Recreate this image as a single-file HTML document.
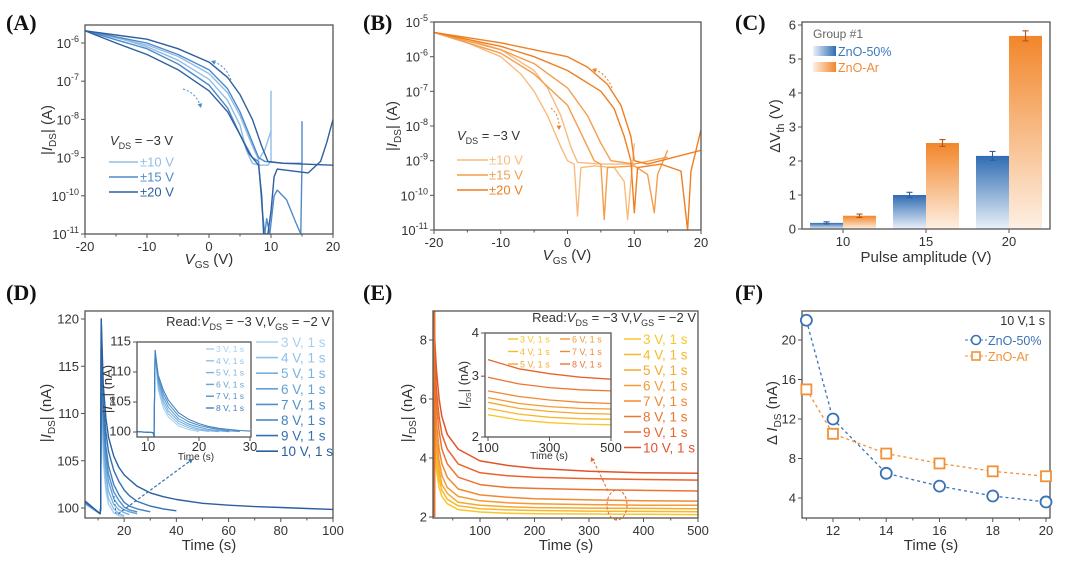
<!DOCTYPE html>
<html><head><meta charset="utf-8"><style>
html,body{margin:0;padding:0;background:#fff;}
svg{display:block;font-family:"Liberation Sans",sans-serif;}
.tk{font-size:13px;fill:#333;}
.pl{font-family:"Liberation Serif",serif;font-weight:bold;font-size:22px;fill:#111;}
.at{font-size:15px;fill:#333;}
</style></head><body>
<svg id="fig" width="1080" height="561" viewBox="0 0 1080 561">
<defs>
<linearGradient id="gBlue" x1="0" y1="0" x2="0" y2="1"><stop offset="0" stop-color="#2f6cb3"/><stop offset="1" stop-color="#eaf1f9"/></linearGradient>
<linearGradient id="gOr" x1="0" y1="0" x2="0" y2="1"><stop offset="0" stop-color="#f2862a"/><stop offset="1" stop-color="#fdf0e4"/></linearGradient>
<linearGradient id="gBlueH" x1="0" y1="0" x2="1" y2="0"><stop offset="0" stop-color="#eaf1f9"/><stop offset="1" stop-color="#2f6cb3"/></linearGradient>
<linearGradient id="gOrH" x1="0" y1="0" x2="1" y2="0"><stop offset="0" stop-color="#fdf0e4"/><stop offset="1" stop-color="#f2862a"/></linearGradient>
</defs>
</svg>
<script>
// ---------- DATA ----------
const aLabels=["±10 V","±15 V","±20 V"];
const aFwd10=[[-20,-5.68],[-15,-5.85],[-10,-6.1],[-5,-6.45],[0,-6.95],[3,-7.5],[5,-8.15],[6,-8.8],[7,-9.15],[8,-9.2],[9.5,-9.2],[10,-9.1],[10,-7.25]];
const aRev10=[[-20,-5.68],[-10,-6.05],[-5,-6.35],[0,-6.8],[3,-7.3],[5,-7.9],[7,-8.7],[8,-9.05],[9,-8.8],[10,-8.3]];
const aFwd15=[[-20,-5.68],[-10,-6.15],[-5,-6.55],[0,-7.1],[3,-7.7],[5,-8.4],[7,-9.0],[8,-9.1],[8.6,-10.4],[9,-11],[9.3,-10.6],[9.8,-11],[10.5,-10],[11,-9.85],[12.5,-10.1],[14,-10.7],[14.8,-11],[15,-9.1],[15,-8.05]];
const aRev15=[[-20,-5.68],[-10,-6.0],[-5,-6.3],[0,-6.7],[3,-7.2],[5,-7.8],[7,-8.6],[8,-9.0],[9,-9.1],[12,-9.15],[15,-9.15]];
const aFwd20=[[-20,-5.68],[-15,-6.0],[-10,-6.3],[-5,-6.7],[0,-7.25],[3,-7.8],[5,-8.4],[6.5,-8.9],[8,-9.2],[8.5,-10],[8.8,-11],[9.5,-11],[10,-10.4],[10.5,-9.5],[11,-9.3],[16,-9.4],[18,-9.1],[19,-8.6],[20,-8]];
const aRev20=[[-20,-5.68],[-10,-5.9],[-5,-6.15],[0,-6.5],[3,-6.9],[5,-7.35],[7,-8.0],[8.5,-8.7],[9.5,-9.1],[12,-9.15],[20,-9.2]];
const bFwd10=[[-20,-5.3],[-15,-5.6],[-10,-6.0],[-7,-6.5],[-5,-7.0],[-3,-7.7],[-1,-8.6],[0,-9.0],[1,-9.1],[1.5,-10.6],[2,-9.2],[4,-9.15],[7,-9.2],[8.5,-9.6],[9,-10.7],[9.5,-9.6],[10,-8.5]];
const bRev10=[[-20,-5.3],[-15,-5.5],[-10,-5.8],[-5,-6.4],[-3,-6.9],[-1,-7.7],[0.5,-8.6],[1.5,-9.05],[5,-9.1],[10,-9.1]];
const bFwd15=[[-20,-5.3],[-10,-5.9],[-5,-6.5],[0,-7.4],[2,-8.2],[4,-9.0],[5,-9.1],[5.5,-10.7],[6,-9.2],[10,-9.15],[12,-9.4],[13,-10.5],[13.5,-9.4],[15,-8.7]];
const bRev15=[[-20,-5.3],[-10,-5.8],[-5,-6.2],[0,-6.9],[3,-7.7],[5,-8.5],[6.5,-9.0],[10,-9.1],[15,-8.9]];
const bFwd20=[[-20,-5.3],[-10,-5.7],[-5,-6.0],[0,-6.4],[5,-7.0],[7,-7.5],[8.5,-8.3],[9.5,-9.0],[10,-10.5],[10.5,-9.2],[14,-9.1],[17,-9.3],[18,-11],[18.5,-9.3],[20,-8.1]];
const bRev20=[[-20,-5.3],[-10,-5.6],[0,-6.0],[3,-6.3],[6,-6.8],[8,-7.4],[9.5,-8.3],[10,-9.0],[12,-9.1],[16,-8.9],[20,-8.7]];
const cCats=[10,15,20];
const cBlue=[0.18,1.0,2.15];
const cBlueErr=[0.03,0.08,0.13];
const cOrange=[0.39,2.53,5.68];
const cOrangeErr=[0.05,0.1,0.15];
const dLabels=["3 V, 1 s","4 V, 1 s","5 V, 1 s","6 V, 1 s","7 V, 1 s","8 V, 1 s","9 V, 1 s","10 V, 1 s"];
const dTime=[11,11.2,12,13,14,16,18,20,22,25,30,35,40,50,60,70,80,90,100];
const dV3=[100,117,105,101.8,100.4,99.5,99.2,99.1];
const dV4=[100,117,106,102.5,101,99.9,99.4,99.2];
const dV5=[100,118,107,103.5,101.8,100.4,99.8,99.5,99.3];
const dV6=[100,118,108,104.5,102.8,101,100.2,99.8,99.6,99.4];
const dV7=[100,119,109,105.5,103.6,101.7,100.8,100.1,99.8,99.6];
const dV8=[100,119,110,106.5,104.5,102.5,101.4,100.6,100.2,99.9,99.6];
const dV9=[100,120,111,108,106,104,102.8,101.9,101.3,100.7,100.2,99.9,99.7];
const dV10=[100,120,113,109.5,107.5,105.5,104.3,103.5,103,102.3,101.6,101.2,100.9,100.5,100.3,100.15,100.05,99.95,99.85];
const diTime=[11.2,11.4,12,13,14,16,18,20,22,24,26,28,30];
const diV3=[100,113,107,104,102.5,101,100.4,100.1];
const diV4=[100,113,107.5,104.6,103,101.4,100.7,100.3,100.1];
const diV5=[100,113.3,108,105.2,103.5,101.8,101,100.5,100.2,100.05];
const diV6=[100,113.5,108.5,105.8,104.1,102.2,101.3,100.8,100.4,100.2,100.05];
const diV7=[100,113.6,109,106.4,104.7,102.7,101.7,101.1,100.7,100.4,100.2,100.1];
const diV8=[100,113.6,109.5,107,105.3,103.2,102.1,101.4,100.9,100.6,100.4,100.25,100.15];
const eTime=[15,17,20,25,30,40,60,100,150,200,300,400,500];
const eV3=[6.5,4.6,3.6,3.0,2.7,2.45,2.25,2.17,2.13,2.11,2.1,2.09,2.08];
const eV4=[7,5,3.9,3.3,2.9,2.6,2.38,2.28,2.24,2.22,2.2,2.19,2.18];
const eV5=[7.5,5.5,4.3,3.6,3.1,2.8,2.5,2.4,2.35,2.32,2.3,2.29,2.28];
const eV6=[8,6,4.7,3.9,3.4,3.0,2.7,2.55,2.48,2.45,2.42,2.4,2.4];
const eV7=[8.5,6.5,5.2,4.3,3.8,3.35,2.95,2.75,2.67,2.62,2.58,2.55,2.54];
const eV8=[9,7,5.8,4.9,4.3,3.8,3.35,3.1,3.0,2.97,2.93,2.9,2.88];
const eV9=[9,7.5,6.3,5.4,4.8,4.3,3.8,3.5,3.4,3.35,3.3,3.27,3.25];
const eV10=[9,8,7,6,5.4,4.8,4.3,3.9,3.75,3.65,3.55,3.5,3.48];
const eiTime=[100,200,300,400,500];
const eiV3=[2.32,2.24,2.2,2.18,2.17];
const eiV4=[2.42,2.33,2.28,2.26,2.25];
const eiV5=[2.52,2.42,2.37,2.34,2.33];
const eiV6=[2.6,2.5,2.45,2.42,2.41];
const eiV7=[2.72,2.62,2.56,2.52,2.5];
const eiV8=[2.98,2.85,2.78,2.74,2.72];
const eiV8top=[3.35,3.15,3.05,2.98,2.94];
const fTime=[11,12,14,16,18,20];
const fZnO50=[22,12,6.5,5.2,4.2,3.6];
const fZnOAr=[15,10.5,8.5,7.5,6.7,6.2];

// ---------- HELPERS ----------
const NS="http://www.w3.org/2000/svg";
const svg=document.getElementById('fig');
function el(tag,attrs,parent,text){const e=document.createElementNS(NS,tag);for(const k in attrs)e.setAttribute(k,attrs[k]);if(text!==undefined)e.textContent=text;(parent||svg).appendChild(e);return e;}
function lin(d0,d1,r0,r1){return v=>r0+(v-d0)*(r1-r0)/(d1-d0);}
function logS(d0,d1,r0,r1){const f=lin(Math.log10(d0),Math.log10(d1),r0,r1);return v=>f(Math.log10(v));}
function clip(id,x0,y0,x1,y1){const cp=el('clipPath',{id:id},svg.querySelector('defs'));el('rect',{x:x0,y:y0,width:x1-x0,height:y1-y0},cp);}
function frame(x0,y0,x1,y1,name){const r=el('rect',{x:x0,y:y0,width:x1-x0,height:y1-y0,fill:'none',stroke:'#555','stroke-width':1.3});

}
function poly(pts,sx,sy,color,w,cid,name,dash){const d=pts.map((p,i)=>(i?'L':'M')+sx(p[0]).toFixed(1)+','+sy(p[1]).toFixed(1)).join('');
const p=el('path',{d:d,fill:'none',stroke:color,'stroke-width':w||1.4,'clip-path':cid?'url(#'+cid+')':'','stroke-linejoin':'round'});
if(dash)p.setAttribute('stroke-dasharray',dash);

return p;}
function zip(t,v){return v.map((y,i)=>[t[i],y]);}
function xTicks(vals,sx,y,fs,minor){fs=fs||13;vals.forEach(v=>{const x=sx(v);el('line',{x1:x,y1:y,x2:x,y2:y+4,stroke:'#555'});
const t=el('text',{x:x,y:y+4+fs,'text-anchor':'middle',class:'tk','font-size':fs},svg,String(v));

});
(minor||[]).forEach(v=>{const x=sx(v);el('line',{x1:x,y1:y,x2:x,y2:y+2.5,stroke:'#555'});});}
function yTicks(vals,sy,x,fs,minor,labels){fs=fs||13;vals.forEach((v,i)=>{const y=sy(v);el('line',{x1:x,y1:y,x2:x-4,y2:y,stroke:'#555'});
const t=el('text',{x:x-6,y:y+fs*0.36,'text-anchor':'end',class:'tk','font-size':fs},svg,labels?labels[i]:String(v));

});
(minor||[]).forEach(v=>{const y=sy(v);el('line',{x1:x,y1:y,x2:x-2.5,y2:y,stroke:'#555'});});}
function expTicks(exps,sy,x){exps.forEach(e=>{const y=sy(e);el('line',{x1:x,y1:y,x2:x-4,y2:y,stroke:'#555'});
const t=el('text',{x:x-6,y:y+5,'text-anchor':'end',class:'tk'},svg);


el('tspan',{},t,'10');el('tspan',{dy:-6,'font-size':9},t,String(e));});}
function plabel(x,y,s,name){const t=el('text',{x:x,y:y,class:'pl'},svg,s);

}
function rich(x,y,parts,attrs,name){const t=el('text',Object.assign({x:x,y:y},attrs),svg);


parts.forEach(p=>{if(typeof p==='string')el('tspan',{},t,p);else{el('tspan',p.a||{},t,p.t);}});return t;}
function ytitle(x,y,parts,name,cls){return rich(0,0,parts,{class:cls||'at','text-anchor':'middle',transform:'translate('+x+','+y+') rotate(-90)'},name);}
function arrowHead(x,y,ang,color){const a=ang*Math.PI/180,s=5;const p1=[x-s*Math.cos(a-0.5),y-s*Math.sin(a-0.5)],p2=[x-s*Math.cos(a+0.5),y-s*Math.sin(a+0.5)];
const h=el('path',{d:'M'+x+','+y+'L'+p1+'L'+p2+'Z',fill:color});

}

// ---------- PANEL A ----------
plabel(6,30,'(A)','panel-a-label');
{const sx=lin(-20,20,85,333),sy=lin(-11,-6,234,43);
clip('cA',85,25,333,234);
const cols=['#93bde4','#4f8bc9','#2f5f9f'];
[[aFwd10,aRev10],[aFwd15,aRev15],[aFwd20,aRev20]].forEach((pr,i)=>{poly(pr[0],sx,sy,cols[i],1.4,'cA','transfer-curve-fwd-'+(i+1));poly(pr[1],sx,sy,cols[i],1.4,'cA','transfer-curve-rev-'+(i+1));});
frame(85,25,333,234,'panel-a-plot-area');
xTicks([-20,-10,0,10,20],sx,234,13,[-15,-5,5,15]);
expTicks([-6,-7,-8,-9,-10,-11],sy,85);
rich(209,264,[{t:'V',a:{'font-style':'italic'}},{t:'GS',a:{dy:4,'font-size':10}},{t:' (V)',a:{dy:-4}}],{class:'at','text-anchor':'middle'},'x-axis-title-a');
ytitle(52,130,['|',{t:'I',a:{'font-style':'italic'}},{t:'DS',a:{dy:4,'font-size':10}},{t:'| (A)',a:{dy:-4}}],'y-axis-title-a');
rich(110,145,[{t:'V',a:{'font-style':'italic'}},{t:'DS',a:{dy:4,'font-size':9}},{t:' = −3 V',a:{dy:-4}}],{'font-size':13,fill:'#333'},'vds-note-a');
aLabels.forEach((s,i)=>{const y=162+i*15;el('line',{x1:109,y1:y,x2:138,y2:y,stroke:cols[i],'stroke-width':1.6});
const t=el('text',{x:140,y:y+4.5,'font-size':13,fill:cols[i]},svg,s);

});
el('path',{d:'M231,80 Q226,66 214,62',fill:'none',stroke:'#4f8bc9','stroke-dasharray':'2,2'});arrowHead(211,61,200,'#4f8bc9');
el('path',{d:'M183,89 Q196,93 200,105',fill:'none',stroke:'#4f8bc9','stroke-dasharray':'2,2'});arrowHead(201,108,75,'#4f8bc9');
}
// ---------- PANEL B ----------
plabel(363,30,'(B)','panel-b-label');
{const sx=lin(-20,20,434,701),sy=lin(-11,-5,230,22);
clip('cB',434,22,701,230);
const cols=['#f8bb80','#f49d4c','#ee7f22'];
[[bFwd10,bRev10],[bFwd15,bRev15],[bFwd20,bRev20]].forEach((pr,i)=>{poly(pr[0],sx,sy,cols[i],1.4,'cB','transfer-curve-b-fwd-'+(i+1));poly(pr[1],sx,sy,cols[i],1.4,'cB','transfer-curve-b-rev-'+(i+1));});
frame(434,22,701,230,'panel-b-plot-area');
xTicks([-20,-10,0,10,20],sx,230,13,[-15,-5,5,15]);
expTicks([-5,-6,-7,-8,-9,-10,-11],sy,434);
rich(567,260,[{t:'V',a:{'font-style':'italic'}},{t:'GS',a:{dy:4,'font-size':10}},{t:' (V)',a:{dy:-4}}],{class:'at','text-anchor':'middle'},'x-axis-title-b');
ytitle(397,126,['|',{t:'I',a:{'font-style':'italic'}},{t:'DS',a:{dy:4,'font-size':10}},{t:'| (A)',a:{dy:-4}}],'y-axis-title-b');
rich(457,140,[{t:'V',a:{'font-style':'italic'}},{t:'DS',a:{dy:4,'font-size':9}},{t:' = −3 V',a:{dy:-4}}],{'font-size':13,fill:'#333'},'vds-note-b');
aLabels.forEach((s,i)=>{const y=160+i*15;el('line',{x1:457,y1:y,x2:488,y2:y,stroke:cols[i],'stroke-width':1.6});
const t=el('text',{x:489,y:y+4.5,'font-size':13,fill:cols[i]},svg,s);

});
el('path',{d:'M612,88 Q607,75 596,70',fill:'none',stroke:'#ee7f22','stroke-dasharray':'2,2'});arrowHead(592,69,200,'#ee7f22');
el('path',{d:'M551,108 Q559,115 559,126',fill:'none',stroke:'#ee7f22','stroke-dasharray':'2,2'});arrowHead(559,130,90,'#ee7f22');
}
// ---------- PANEL C ----------
plabel(735,30,'(C)','panel-c-label');
{const sx=lin(10,20,843,1009),sy=lin(0,6,229,25);const bw=33;
cCats.forEach((c,i)=>{const xc=sx(c);
const b1=el('rect',{x:xc-bw,y:sy(cBlue[i]),width:bw,height:sy(0)-sy(cBlue[i]),fill:'url(#gBlue)'});


const b2=el('rect',{x:xc,y:sy(cOrange[i]),width:bw,height:sy(0)-sy(cOrange[i]),fill:'url(#gOr)'});


[[xc-bw/2,cBlue[i],cBlueErr[i],'#2f5f9f'],[xc+bw/2,cOrange[i],cOrangeErr[i],'#b0561a']].forEach(e=>{
const g=el('path',{d:'M'+e[0]+','+sy(e[1]+e[2])+'V'+sy(e[1]-e[2])+'M'+(e[0]-3)+','+sy(e[1]+e[2])+'h6M'+(e[0]-3)+','+sy(e[1]-e[2])+'h6',stroke:e[3],'stroke-width':1.1,fill:'none'});

});});
frame(802,22,1050,229,'panel-c-plot-area');
xTicks(cCats,sx,229);
yTicks([0,1,2,3,4,5,6],sy,802);
const xt=el('text',{x:926,y:262,class:'at','text-anchor':'middle'},svg,'Pulse amplitude (V)');


ytitle(780,126,['Δ',{t:'V'},{t:'th',a:{dy:4,'font-size':11}},{t:' (V)',a:{dy:-4}}],'y-axis-title-c');
const gt=el('text',{x:813,y:38,'font-size':12,fill:'#666'},svg,'Group #1');


el('rect',{x:813,y:46,width:23,height:10,fill:'url(#gBlueH)'});
el('rect',{x:813,y:62,width:23,height:10,fill:'url(#gOrH)'});
const l1=el('text',{x:838,y:56,'font-size':12.5,fill:'#3a78bd'},svg,'ZnO-50%');


const l2=el('text',{x:838,y:72,'font-size':12.5,fill:'#f08a3a'},svg,'ZnO-Ar');


}
// ---------- PANEL D ----------
plabel(6,300,'(D)','panel-d-label');
const dCols=['#a6d0f0','#90c1e8','#7ab1df','#64a1d5','#5290ca','#4180be','#3470b0','#2b5fa0'];
const dSeries=[dV3,dV4,dV5,dV6,dV7,dV8,dV9,dV10];
const diSeries=[diV3,diV4,diV5,diV6,diV7,diV8];
{const sx=lin(5,100,85,333),sy=lin(100,120,508,319);
clip('cD',85,311,333,518);
dSeries.forEach((v,i)=>{const pts=[[5,100.4+i*0.05],[10.8,99.4]].concat(zip(dTime,v));poly(pts,sx,sy,dCols[i],1.4,'cD','decay-curve-d-'+(i+3)+'v');});
frame(85,311,333,518,'panel-d-plot-area');
xTicks([20,40,60,80,100],sx,518,13,[10,30,50,70,90]);
yTicks([100,105,110,115,120],sy,85);
const xt=el('text',{x:209,y:550,class:'at','text-anchor':'middle'},svg,'Time (s)');


ytitle(51,413,['|',{t:'I',a:{'font-style':'italic'}},{t:'DS',a:{dy:4,'font-size':10}},{t:'| (nA)',a:{dy:-4}}],'y-axis-title-d');
rich(330,326,['Read:',{t:'V',a:{'font-style':'italic'}},{t:'DS',a:{dy:4,'font-size':9}},{t:' = −3 V,',a:{dy:-4}},{t:'V',a:{'font-style':'italic'}},{t:'GS',a:{dy:4,'font-size':9}},{t:' = −2 V',a:{dy:-4}}],{'font-size':13,fill:'#333','text-anchor':'end'},'read-condition-d');
dLabels.forEach((s,i)=>{const y=342+i*15.6;el('line',{x1:256,y1:y,x2:278,y2:y,stroke:dCols[i],'stroke-width':1.6});
const t=el('text',{x:281,y:y+5,'font-size':13.5,fill:dCols[i]},svg,s);

});
el('path',{d:'M118,514 L190,461',fill:'none',stroke:'#3470b0','stroke-dasharray':'3,2','stroke-width':1.2});arrowHead(193,459,-36,'#3470b0');
el('path',{d:'M114,496 L116,514',fill:'none',stroke:'#3470b0','stroke-dasharray':'2,2'});
const ix=lin(10,30,148,250),iy=lin(100,115,432,342);
el('rect',{x:137,y:342,width:114,height:95,fill:'#fff'});
clip('cDi',137,342,251,437);
diSeries.forEach((v,i)=>{const pts=[[7,100.1],[11,99.9],[11.2,99.2]].concat(zip(diTime,v));poly(pts,ix,iy,dCols[i],1.1,'cDi','inset-decay-d-'+(i+3)+'v');});
frame(137,342,251,437,'panel-d-inset');
xTicks([10,20,30],ix,437,10);
yTicks([100,105,110,115],iy,137,10);
const it=el('text',{x:196,y:460,'font-size':10,fill:'#333','text-anchor':'middle'},svg,'Time (s)');


ytitle(112,389,['|',{t:'I',a:{'font-style':'italic'}},{t:'DS',a:{dy:3,'font-size':7}},{t:'| (nA)',a:{dy:-3}}],'inset-y-title-d','tk');
dLabels.slice(0,6).forEach((s,i)=>{const y=349+i*11.8;el('line',{x1:206,y1:y,x2:214,y2:y,stroke:dCols[i],'stroke-width':1.4});
const t=el('text',{x:216,y:y+3,'font-size':8.5,fill:dCols[i]},svg,s);

});
}
// ---------- PANEL E ----------
plabel(363,300,'(E)','panel-e-label');
const eCols=['#f9c62a','#f7b82c','#f5a930','#f39a33','#f08934','#ec7530','#e8642c','#e3532a'];
const eSeries=[eV3,eV4,eV5,eV6,eV7,eV8,eV9,eV10];
{const sx=lin(100,500,480,698),sy=lin(2,8,517,340);
clip('cE',433,311,698,518);
eSeries.forEach((v,i)=>{const pts=[[10,2.02],[14.6,2.02],[14.8,9]].concat(zip(eTime,v));poly(pts,sx,sy,eCols[i],1.5,'cE','decay-curve-e-'+(i+3)+'v');});
poly([[16,2],[16,9.5]],sx,sy,'#ee7020',2.5,'cE','pulse-line-e');
frame(433,311,698,518,'panel-e-plot-area');
xTicks([100,200,300,400,500],sx,518,13,[50,150,250,350,450]);
yTicks([2,4,6,8],sy,433);
const xt=el('text',{x:566,y:550,class:'at','text-anchor':'middle'},svg,'Time (s)');


ytitle(412,413,['|',{t:'I',a:{'font-style':'italic'}},{t:'DS',a:{dy:4,'font-size':10}},{t:'| (nA)',a:{dy:-4}}],'y-axis-title-e');
rich(696,322,['Read:',{t:'V',a:{'font-style':'italic'}},{t:'DS',a:{dy:4,'font-size':9}},{t:' = −3 V,',a:{dy:-4}},{t:'V',a:{'font-style':'italic'}},{t:'GS',a:{dy:4,'font-size':9}},{t:' = −2 V',a:{dy:-4}}],{'font-size':13,fill:'#333','text-anchor':'end'},'read-condition-e');
dLabels.forEach((s,i)=>{const y=339+i*15.5;el('line',{x1:624,y1:y,x2:641,y2:y,stroke:eCols[i],'stroke-width':1.6});
const t=el('text',{x:643,y:y+5,'font-size':13.5,fill:eCols[i]},svg,s);

});
const ell=el('ellipse',{cx:617,cy:505,rx:10,ry:15,fill:'none',stroke:'#e8642c','stroke-dasharray':'3,2'});


el('path',{d:'M608,491 L594,462',fill:'none',stroke:'#e8642c','stroke-dasharray':'3,2'});arrowHead(591,457,-115,'#e8642c');
const ix=lin(100,500,488,611),iy=logS(2,4,437,333);
el('rect',{x:485,y:333,width:126,height:104,fill:'#fff'});
clip('cEi',485,333,611,437);
[eiV3,eiV4,eiV5,eiV6,eiV7,eiV8,eiV8top].forEach((v,i)=>{poly(zip(eiTime,v),ix,iy,eCols[Math.min(i,7)],1.3,'cEi','inset-decay-e-'+i);});
frame(485,333,611,437,'panel-e-inset');
xTicks([100,300,500],ix,437,11);
yTicks([2,3,4],iy,485,11);
const it=el('text',{x:549,y:459,'font-size':10.5,fill:'#333','text-anchor':'middle'},svg,'Time (s)');


ytitle(468,385,['|',{t:'I',a:{'font-style':'italic'}},{t:'DS',a:{dy:3,'font-size':7}},{t:'| (nA)',a:{dy:-3}}],'inset-y-title-e','tk');
dLabels.slice(0,6).forEach((s,i)=>{const col=Math.floor(i/3),r=i%3;const x=508+col*52,y=339+r*12.5;
el('line',{x1:x,y1:y,x2:x+10,y2:y,stroke:eCols[i],'stroke-width':1.4});
const t=el('text',{x:x+12,y:y+3.5,'font-size':9,fill:eCols[i]},svg,s);

});
}
// ---------- PANEL F ----------
plabel(735,300,'(F)','panel-f-label');
{const sx=lin(12,20,833,1046),sy=lin(4,20,498,340);
frame(802,311,1050,518,'panel-f-plot-area');
poly(zip(fTime,fZnO50),sx,sy,'#3a72b5',1.3,null,'line-zno50','3,3');
poly(zip(fTime,fZnOAr),sx,sy,'#f0923a',1.3,null,'line-znoar','3,3');
fTime.forEach((t,i)=>{const c=el('circle',{cx:sx(t),cy:sy(fZnO50[i]),r:5.5,fill:'#fff',stroke:'#3a72b5','stroke-width':1.8});


const r=el('rect',{x:sx(t)-5,y:sy(fZnOAr[i])-5,width:10,height:10,fill:'#fff',stroke:'#f0923a','stroke-width':1.8});

});
xTicks([12,14,16,18,20],sx,518,13,[11,13,15,17,19]);
yTicks([4,8,12,16,20],sy,802);
const xt=el('text',{x:931,y:550,class:'at','text-anchor':'middle'},svg,'Time (s)');


ytitle(777,413,['Δ ',{t:'I',a:{'font-style':'italic'}},{t:'DS',a:{dy:4,'font-size':10}},{t:' (nA)',a:{dy:-4}}],'y-axis-title-f');
const nt=el('text',{x:1045,y:325,'font-size':12.5,fill:'#333','text-anchor':'end'},svg,'10 V,1 s');


el('line',{x1:965,y1:340,x2:987,y2:340,stroke:'#3a72b5','stroke-dasharray':'3,2'});
el('circle',{cx:976,cy:340,r:4.5,fill:'#fff',stroke:'#3a72b5','stroke-width':1.6});
el('line',{x1:965,y1:356,x2:987,y2:356,stroke:'#f0923a','stroke-dasharray':'3,2'});
el('rect',{x:972,y:352,width:8,height:8,fill:'#fff',stroke:'#f0923a','stroke-width':1.6});
const a=el('text',{x:988,y:345,'font-size':12.5,fill:'#3a72b5'},svg,'ZnO-50%');


const b=el('text',{x:988,y:361,'font-size':12.5,fill:'#f0923a'},svg,'ZnO-Ar');


}
</script>
</body></html>
